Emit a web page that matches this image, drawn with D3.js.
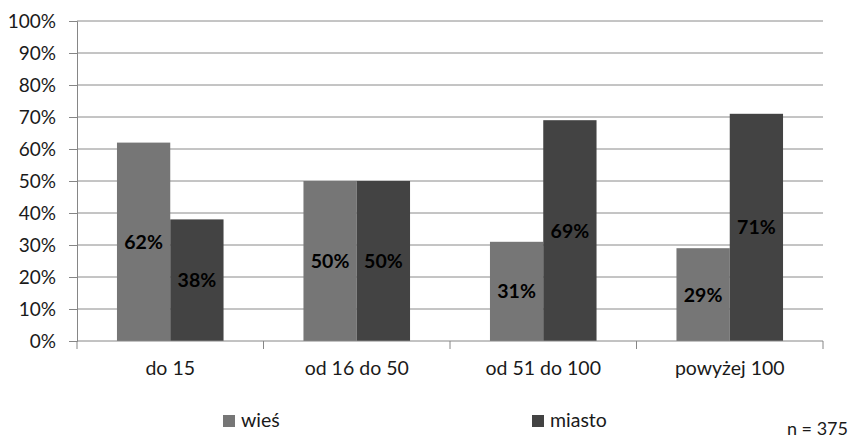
<!DOCTYPE html>
<html><head><meta charset="utf-8">
<script src="https://cdn.jsdelivr.net/npm/d3@7"></script>
<style>body{margin:0;background:#fff}svg{display:block}text{font-family:Lato,"Open Sans",sans-serif}</style>
</head><body><svg id="c" width="850" height="439"></svg>
<script>
const categories = ["do 15", "od 16 do 50", "od 51 do 100", "powyżej 100"];
const seriesNames = ["wieś", "miasto"];
const wies = [62, 50, 31, 29];
const miasto = [38, 50, 69, 71];
const yTicks = [0, 10, 20, 30, 40, 50, 60, 70, 80, 90, 100];
const note = "n = 375";

const colors = {"wieś": "#767676", "miasto": "#434343"};
const svg = d3.select("#c");
const m = {l: 77, r: 823, t: 21, b: 341};

const x = d3.scaleBand().domain(categories).range([m.l, m.r]).paddingInner(0).paddingOuter(0);
const bw = x.bandwidth() / 3.5;
const xs = d3.scaleBand().domain(seriesNames).range([0.75 * bw, 2.75 * bw]);
const y = d3.scaleLinear().domain([0, 100]).range([m.b, m.t]);

// horizontal gridlines
svg.append("g").selectAll("line").data(yTicks.filter(d => d > 0)).join("line")
  .attr("x1", m.l).attr("x2", m.r).attr("y1", d => y(d)).attr("y2", d => y(d))
  .attr("stroke", "#8a8a8a").attr("stroke-width", 1);

// y axis
const ya = svg.append("g").attr("transform", `translate(${m.l},0)`)
  .call(d3.axisLeft(y).tickValues(yTicks).tickFormat(d => d + "%").tickSize(8).tickPadding(13));
ya.select(".domain").attr("stroke", "#868686");
ya.selectAll(".tick line").attr("stroke", "#868686");
ya.selectAll("text").attr("font-size", 19).attr("fill", "#1a1a1a");

// bars with centred value labels
const rows = categories.map((c, i) => ({c, vals: [{s: "wieś", v: wies[i]}, {s: "miasto", v: miasto[i]}]}));
const g = svg.append("g");
rows.forEach(r => {
  r.vals.forEach(d => {
    const bx = x(r.c) + xs(d.s);
    g.append("rect").attr("x", bx).attr("y", y(d.v)).attr("width", xs.bandwidth())
      .attr("height", y(0) - y(d.v)).attr("fill", colors[d.s]);
    g.append("text").attr("x", bx + xs.bandwidth() / 2).attr("y", (y(d.v) + y(0)) / 2)
      .attr("dy", "0.36em").attr("text-anchor", "middle").attr("font-size", 19.5)
      .attr("font-weight", "bold").attr("fill", "#000").text(d.v + "%");
  });
});

// x axis
const xa = svg.append("g").attr("transform", `translate(0,${m.b})`);
xa.append("line").attr("x1", m.l).attr("x2", m.r).attr("stroke", "#868686");
const bounds = categories.map(c => x(c)).concat([m.r]);
xa.selectAll("line.t").data(bounds).join("line").attr("class", "t")
  .attr("x1", d => d).attr("x2", d => d).attr("y1", 0).attr("y2", 8).attr("stroke", "#868686");
xa.selectAll("text").data(categories).join("text")
  .attr("x", d => x(d) + x.bandwidth() / 2).attr("y", 34).attr("text-anchor", "middle")
  .attr("font-size", 19.5).attr("fill", "#1a1a1a").text(d => d);

// legend
const legX = [223, 532];
seriesNames.forEach((s, i) => {
  svg.append("rect").attr("x", legX[i]).attr("y", 415).attr("width", 12).attr("height", 12).attr("fill", colors[s]);
  svg.append("text").attr("x", legX[i] + 18).attr("y", 427).attr("font-size", 19.5).attr("fill", "#1a1a1a").text(s);
});

svg.append("text").attr("x", 848).attr("y", 435).attr("text-anchor", "end")
  .attr("font-size", 18).attr("fill", "#1a1a1a").text(note);
</script></body></html>
